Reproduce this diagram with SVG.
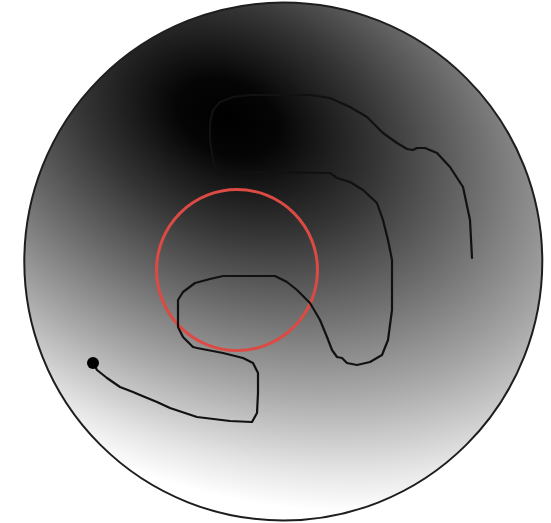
<svg xmlns="http://www.w3.org/2000/svg" width="551" height="523" viewBox="0 0 551 523">
  <defs>
    <radialGradient id="shade" gradientUnits="userSpaceOnUse" cx="0" cy="0" r="1" gradientTransform="translate(228 118) rotate(24) scale(526 363)">
      <stop offset="0" stop-color="#000"/>
      <stop offset="0.1" stop-color="#050505"/>
      <stop offset="0.3" stop-color="#363636"/>
      <stop offset="0.5" stop-color="#6e6e6e"/>
      <stop offset="0.7" stop-color="#a8a8a8"/>
      <stop offset="0.9" stop-color="#e6e6e6"/>
      <stop offset="1" stop-color="#fff"/>
    </radialGradient>
    <style>
      .trail { fill: none; stroke: #111; stroke-width: 2.2; stroke-linejoin: round; stroke-linecap: round; }
    </style>
  </defs>
  <rect x="0" y="0" width="551" height="523" fill="#fff"/>
  <g id="disc">
    <circle cx="283.3" cy="261.5" r="259" fill="url(#shade)" stroke="#1e1e1e" stroke-width="2"/>
  </g>
  <g id="target">
    <circle cx="237" cy="270" r="80.5" fill="none" stroke="#dc4a44" stroke-width="3"/>
  </g>
  <g id="connectors">
    <path class="trail" d="M93,363 L97,370 L107,378 L120,387 L133,392 L140,395 L157,402 L170,408 L197,417 L230,421 L252,422 L257,413 L258,393 L258,373 L253,363 L243,358 L223,353 L197,348 L193,347 L183,337 L178,327 L178,300 L183,292 L195,283 L210,279 L223,276 L275,276 L287,282 L297,290 L310,303 L320,320 L327,337 L332,350 L337,357 L342,358 L347,363 L357,365 L370,362 L382,355 L388,340 L392,310 L392,280 L392,260 L388,240 L383,220 L377,203 L363,190 L350,182 L337,178 L330,173 L257,172 L250,173 L218,175 L213,160 L210,140 L210,123 L213,110 L220,102 L233,97 L250,95 L310,95 L330,98 L350,107 L367,117 L383,133 L397,143 L407,149 L413,150 L417,148 L425,148 L437,153 L450,167 L463,187 L470,220 L472,258"/>
  </g>
  <g id="start">
    <circle cx="93" cy="363" r="6" fill="#000"/>
  </g>
</svg>
